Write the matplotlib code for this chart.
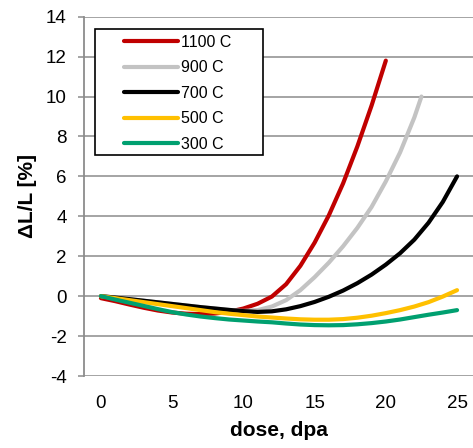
import matplotlib
matplotlib.use("Agg")
import matplotlib.pyplot as plt
from matplotlib.patches import Rectangle

plt.rcParams['font.family'] = ['Liberation Sans', 'DejaVu Sans']
plt.rcParams['axes.unicode_minus'] = False

# ---- data ----
dose_1100 = [0, 1, 2, 3, 4, 5, 6, 7, 8, 9, 10, 11, 12, 13, 14, 15, 16, 17, 18, 19, 20]
swell_1100 = [-0.1, -0.25, -0.42, -0.58, -0.72, -0.82, -0.88, -0.9, -0.87, -0.78, -0.62,
              -0.38, -0.02, 0.6, 1.52, 2.68, 4.05, 5.65, 7.5, 9.55, 11.8]

dose_900 = [0, 1, 2, 3, 4, 5, 6, 7, 8, 9, 10, 11, 12, 13, 14, 15, 16, 17, 18, 19, 20, 21, 22, 22.5]
swell_900 = [0.0, -0.07, -0.15, -0.23, -0.31, -0.39, -0.47, -0.55, -0.62, -0.69, -0.74,
             -0.7, -0.52, -0.2, 0.3, 0.95, 1.68, 2.5, 3.42, 4.47, 5.75, 7.2, 8.95, 10.0]

dose_700 = [0, 1, 2, 3, 4, 5, 6, 7, 8, 9, 10, 11, 12, 13, 14, 15, 16, 17, 18, 19, 20,
            21, 22, 23, 24, 25]
swell_700 = [0.0, -0.07, -0.15, -0.23, -0.31, -0.39, -0.47, -0.55, -0.62, -0.69, -0.75,
             -0.79, -0.76, -0.66, -0.5, -0.29, -0.03, 0.28, 0.65, 1.08, 1.58, 2.15, 2.83,
             3.68, 4.72, 6.0]

dose_500 = [0, 1, 2, 3, 4, 5, 6, 7, 8, 9, 10, 11, 12, 13, 14, 15, 16, 17, 18, 19, 20,
            21, 22, 23, 24, 25]
swell_500 = [0.0, -0.1, -0.2, -0.3, -0.4, -0.5, -0.6, -0.7, -0.8, -0.88, -0.95, -1.02,
             -1.07, -1.12, -1.16, -1.18, -1.18, -1.15, -1.08, -0.98, -0.85, -0.7, -0.52,
             -0.3, -0.02, 0.3]

dose_300 = [0, 1, 2, 3, 4, 5, 6, 7, 8, 9, 10, 11, 12, 13, 14, 15, 16, 17, 18, 19, 20,
            21, 22, 23, 24, 25]
swell_300 = [0.0, -0.17, -0.33, -0.49, -0.65, -0.8, -0.92, -1.02, -1.1, -1.17, -1.22,
             -1.27, -1.31, -1.37, -1.42, -1.45, -1.46, -1.45, -1.41, -1.35, -1.27, -1.17,
             -1.05, -0.93, -0.82, -0.7]

labels = ["1100 C", "900 C", "700 C", "500 C", "300 C"]
colors = ["#C00000", "#C3C3C3", "#000000", "#FFC000", "#00A070"]

x_ticks = [0, 5, 10, 15, 20, 25]
y_ticks = [-4, -2, 0, 2, 4, 6, 8, 10, 12, 14]

# ---- figure ----
W, H = 473, 448
fig = plt.figure(figsize=(W / 100, H / 100), dpi=100)
ax_l, ax_r, ax_t, ax_b = 84, 473, 16.7, 376
ax = fig.add_axes([ax_l / W, 1 - ax_b / H, (ax_r - ax_l) / W, (ax_b - ax_t) / H])

series = [(dose_1100, swell_1100), (dose_900, swell_900), (dose_700, swell_700),
          (dose_500, swell_500), (dose_300, swell_300)]
for (d, s), lab, c in zip(series, labels, colors):
    ax.plot(d, s, color=c, lw=3.0, label=lab, solid_capstyle='round',
            solid_joinstyle='round', zorder=3)

ax.set_xlim(-1.19, 26.12)
ax.set_ylim(-4, 14)
ax.set_xticks(x_ticks)
ax.set_yticks(y_ticks)

gridc = '#8c8c8c'
ax.yaxis.grid(True, color=gridc, lw=1.1, zorder=0)
ax.xaxis.grid(False)
ax.set_axisbelow(True)
for sp in ['top', 'right', 'bottom']:
    ax.spines[sp].set_visible(False)
ax.spines['left'].set_color(gridc)
ax.spines['left'].set_linewidth(1.3)

ax.tick_params(axis='y', length=4.5, width=1.1, color=gridc, labelsize=13.5, pad=8,
               labelcolor='black')
ax.tick_params(axis='x', length=0, labelsize=13.5, pad=13.5, labelcolor='black')

ax.set_xlabel("dose, dpa", fontsize=15, fontweight='bold', labelpad=7)
ax.set_ylabel("ΔL/L [%]", fontsize=15, fontweight='bold', labelpad=6)

# legend frame (white box covering grid)
bx0 = (95 - ax_l) / (ax_r - ax_l)
bx1 = (263 - ax_l) / (ax_r - ax_l)
by0 = (ax_b - 155) / (ax_b - ax_t)
by1 = (ax_b - 29) / (ax_b - ax_t)
ax.add_patch(Rectangle((bx0, by0), bx1 - bx0, by1 - by0, transform=ax.transAxes,
                       facecolor='white', edgecolor='black', lw=1.2, zorder=4))

leg = ax.legend(loc='upper left',
                bbox_to_anchor=((124 - ax_l) / (ax_r - ax_l), (ax_b - 35) / (ax_b - ax_t)),
                frameon=False, fontsize=11.5, handlelength=3.35, handletextpad=0.2,
                labelspacing=0.65, borderpad=0, borderaxespad=0)
leg.set_zorder(5)

fig.savefig("out.png", dpi=100)
